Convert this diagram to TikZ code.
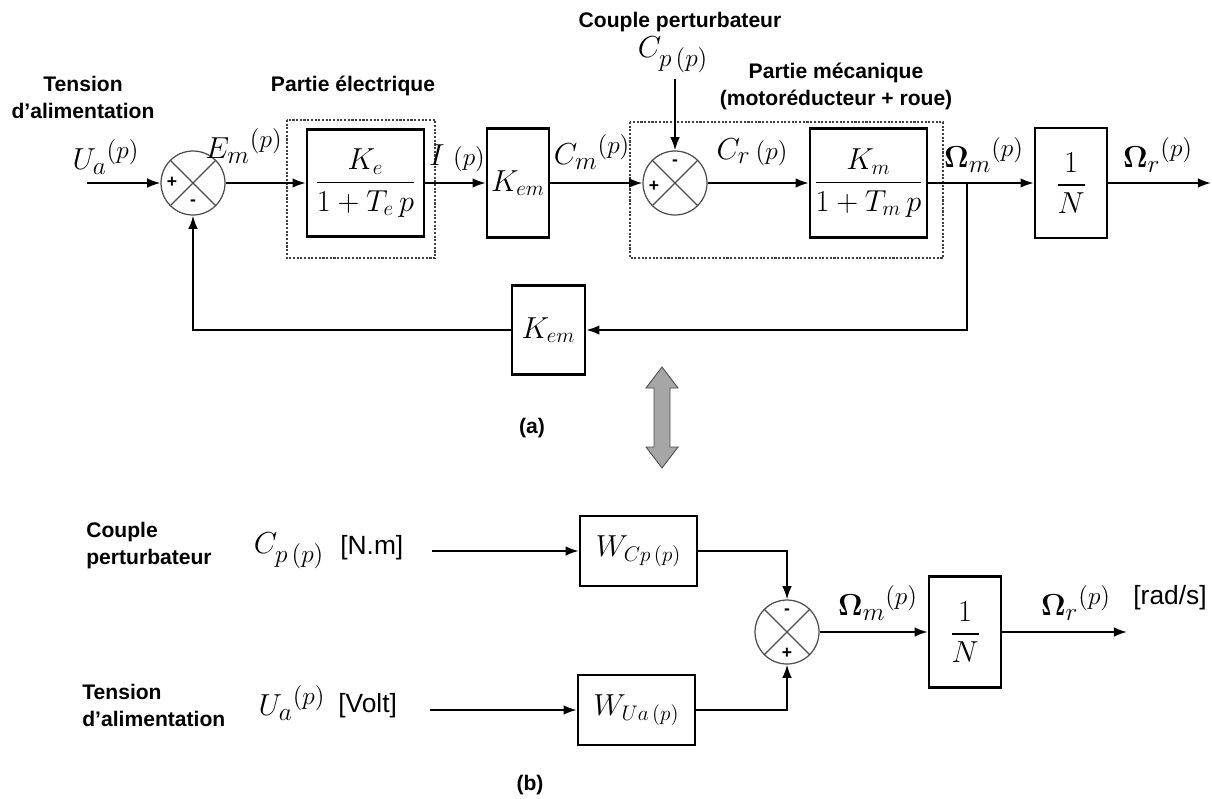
\documentclass[tikz,border=0pt]{standalone}
\usepackage{amsmath}
\usepackage{fontspec}
\setmainfont{Liberation Sans}
\usetikzlibrary{arrows.meta}

\begin{document}
\begin{tikzpicture}[x=0.02cm, y=-0.02cm, >={Latex[length=7.5pt,width=5.5pt]},
	every node/.style={inner sep=0pt},
	txt/.style={font=\fontsize{12}{15.4}\selectfont\bfseries, align=center},
	unit/.style={font=\fontsize{15}{17}\selectfont},
	mlab/.style={font=\fontsize{19}{22}\selectfont},
	blk/.style={draw, line width=1.5pt, font=\fontsize{18}{22}\selectfont},
	sumj/.style={circle, draw=gray!60!black, line width=0.7pt, minimum size=1.28cm,
		path picture={\draw[gray!60!black, line width=0.7pt] (path picture bounding box.north west) -- (path picture bounding box.south east) (path picture bounding box.north east) -- (path picture bounding box.south west);}},
	sgn/.style={font=\fontsize{10}{10}\selectfont\bfseries},
	flow/.style={->, line width=1.1pt},
	part/.style={draw=gray!50!black, line width=0.9pt, dash pattern=on 1.2pt off 0.9pt}]
	\useasboundingbox (0,0) rectangle (1212,798);
	\node[txt] (tension) at (83,97) {Tension\\d'alimentation};
	\node[mlab] (ualab) at (106,157) {$U_a{}^{(p)}$};
	\coordinate (uin) at (87,183);
	\node[sumj] (sum1) at (193,183) {};
	\node[sgn] (s1p) at (172,182) {+};
	\node[sgn] (s1m) at (193,203) {-};
	\node[mlab] (emlab) at (244,146) {$E_m{}^{(p)}$};
	\draw[part] (287,120) rectangle (435,258);
	\node[txt] (pelec) at (353,86) {Partie électrique};
	\node[blk, minimum width=2.34cm, minimum height=2.14cm] (ke) at (365.5,183) {$\dfrac{K_e}{1+T_e\,p}$};
	\node[mlab] (ilab) at (457,158) {$I\;{\scriptstyle(p)}$};
	\node[blk, minimum width=1.24cm, minimum height=2.18cm] (kem) at (518,183) {$K_{em}$};
	\node[mlab] (cmlab) at (592,152) {$C_m{}^{(p)}$};
	\draw[part] (630,122) rectangle (943,258);
	\node[txt] (pmeca) at (836,86) {Partie mécanique\\(motoréducteur + roue)};
	\node[txt] (cpert) at (680,22) {Couple perturbateur};
	\node[mlab] (cplab) at (673,55) {$C_{p\,(p)}$};
	\coordinate (cpin) at (675,79);
	\node[sumj] (sum2) at (675,183) {};
	\node[sgn] (s2p) at (654,186) {+};
	\node[sgn] (s2m) at (675,163) {-};
	\node[mlab] (crlab) at (752,152) {$C_r\,{\scriptstyle(p)}$};
	\node[blk, minimum width=2.34cm, minimum height=2.18cm] (km) at (868.5,183) {$\dfrac{K_m}{1+T_m\,p}$};
	\node[mlab] (omlab) at (984,155) {$\boldsymbol{\Omega}_m{}^{(p)}$};
	\coordinate (br) at (967,183);
	\node[blk, minimum width=1.44cm, minimum height=2.2cm] (invn) at (1071,183) {$\dfrac{1}{N}$};
	\node[mlab] (orlab) at (1158,155) {$\boldsymbol{\Omega}_r{}^{(p)}$};
	\coordinate (out1) at (1211,183);
	\node[blk, minimum width=1.46cm, minimum height=1.78cm] (fb) at (548.5,330) {$K_{em}$};
	\draw[flow] (uin) -- (sum1.west);
	\draw[flow] (sum1.east) -- (ke.west);
	\draw[flow] (ke.east) -- (kem.west);
	\draw[flow] (kem.east) -- (sum2.west);
	\draw[flow] (cpin) -- (sum2.north);
	\draw[flow] (sum2.east) -- (km.west);
	\draw[flow] (km.east) -- (invn.west);
	\draw[flow] (invn.east) -- (out1);
	\draw[flow] (br) |- (fb.east);
	\draw[flow] (fb.west) -| (sum1.south);
	\filldraw[fill=gray!70, draw=gray!60!black, line width=0.5pt] (662,367) -- (678,388) -- (670,388) -- (670,447) -- (678,447) -- (662,468) -- (646,447) -- (654,447) -- (654,388) -- (646,388) -- cycle;
	\node[txt] (lba) at (532,428) {(a)};
	\node[txt, align=left, anchor=west] (cpert2) at (86,546) {Couple\\perturbateur};
	\node[mlab] (cplab2) at (289,551) {$C_{p\,(p)}$};
	\node[unit, anchor=west] (unm) at (340,548) {[N.m]};
	\coordinate (cpin2) at (432,551);
	\node[blk, minimum width=2.34cm, minimum height=1.4cm] (wcp) at (638.5,551) {$W_{Cp\,(p)}$};
	\node[txt, align=left, anchor=west] (tens2) at (82,705) {Tension\\d'alimentation};
	\node[mlab] (ualab2) at (292,703) {$U_a{}^{(p)}$};
	\node[unit, anchor=west] (uvolt) at (338,706) {[Volt]};
	\coordinate (uain2) at (430,710);
	\node[blk, minimum width=2.34cm, minimum height=1.4cm] (wua) at (636.5,710) {$W_{Ua\,(p)}$};
	\node[sumj] (sum3) at (787,632) {};
	\node[sgn] (s3m) at (787,612) {-};
	\node[sgn] (s3p) at (787,653) {+};
	\node[mlab] (omlab2) at (878,603) {$\boldsymbol{\Omega}_m{}^{(p)}$};
	\node[blk, minimum width=1.44cm, minimum height=2.22cm] (invn2) at (965,632) {$\dfrac{1}{N}$};
	\node[mlab] (orlab2) at (1076,603) {$\boldsymbol{\Omega}_r{}^{(p)}$};
	\node[unit] (urad) at (1170,598) {[rad/s]};
	\coordinate (out2) at (1127,632);
	\node[txt] (lbb) at (530,785) {(b)};
	\draw[flow] (cpin2) -- (wcp.west);
	\draw[flow] (uain2) -- (wua.west);
	\draw[flow] (wcp.east) -| (sum3.north);
	\draw[flow] (wua.east) -| (sum3.south);
	\draw[flow] (sum3.east) -- (invn2.west);
	\draw[flow] (invn2.east) -- (out2);
\end{tikzpicture}
\end{document}
